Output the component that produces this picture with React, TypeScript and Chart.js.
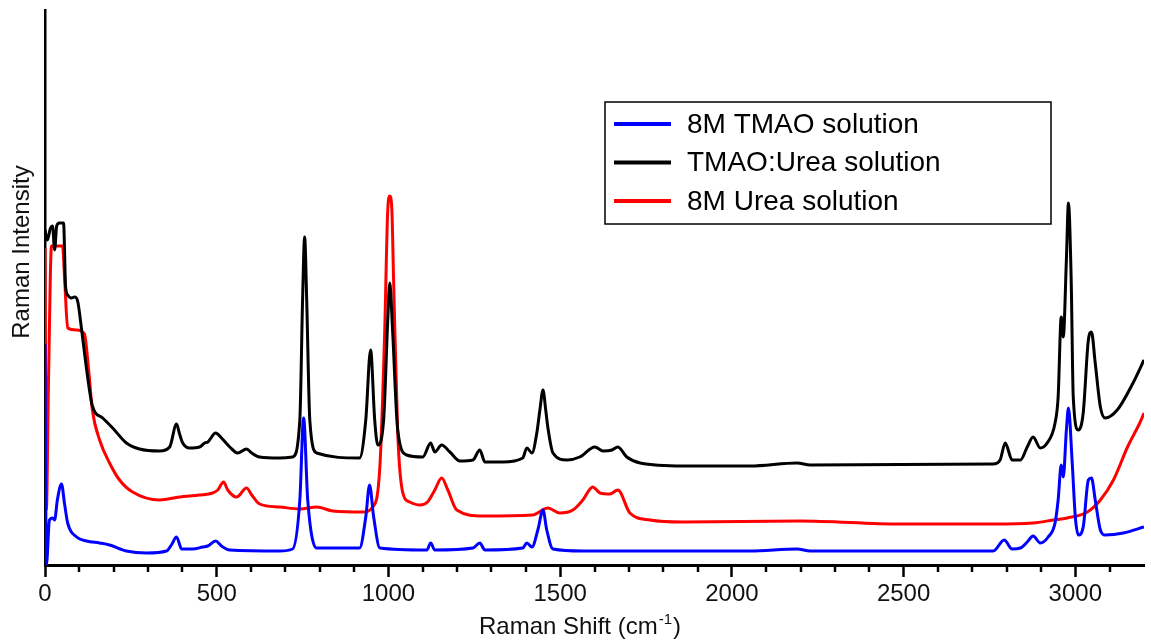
import React, { useEffect, useRef } from "react";
import { Chart, registerables } from "chart.js";

Chart.register(...registerables);

// Raman shift (cm-1) and intensity (arbitrary units)
const blueX = [0, 4, 13, 22, 28, 36, 48, 57, 66, 92, 121, 159, 188, 237, 296, 354, 368, 383, 398, 430, 459, 474, 497, 514, 538, 683, 721, 742, 753, 765, 791, 916, 934, 945, 957, 975, 1112, 1123, 1135, 1246, 1266, 1281, 1391, 1403, 1418, 1435, 1450, 1461, 1479, 1566, 2053, 2190, 2228, 2761, 2793, 2816, 2840, 2860, 2877, 2898, 2921, 2941, 2950, 2959, 2965, 2974, 2980, 2991, 3000, 3009, 3023, 3038, 3047, 3058, 3073, 3087, 3140, 3200];
const blueY = [221, 0, 45, 47, 45, 65, 81, 61, 42, 28, 24, 22, 20, 14, 12, 14, 20, 28, 16, 16, 18, 19, 24, 19, 15, 14, 16, 65, 147, 65, 17, 17, 48, 80, 48, 17, 15, 22, 15, 17, 22, 15, 17, 22, 18, 35, 55, 35, 16, 14, 14, 16, 14, 14, 25, 16, 17, 23, 29, 22, 28, 42, 65, 100, 88, 135, 157, 102, 48, 30, 38, 85, 87, 65, 35, 30, 32, 38];

const blackX = [0, 7, 16, 22, 28, 34, 42, 54, 60, 66, 77, 86, 95, 106, 121, 138, 168, 197, 237, 275, 334, 363, 383, 391, 401, 421, 450, 465, 474, 497, 514, 538, 561, 587, 602, 625, 683, 721, 742, 750, 756, 762, 771, 791, 916, 934, 948, 960, 969, 986, 998, 1004, 1012, 1027, 1053, 1100, 1123, 1135, 1155, 1179, 1208, 1246, 1266, 1281, 1333, 1391, 1403, 1418, 1432, 1441, 1450, 1458, 1464, 1479, 1520, 1557, 1601, 1625, 1651, 1668, 1694, 1733, 1858, 2053, 2190, 2228, 2761, 2781, 2796, 2816, 2840, 2860, 2877, 2898, 2918, 2941, 2950, 2959, 2965, 2974, 2980, 2988, 2994, 3009, 3023, 3038, 3047, 3058, 3073, 3087, 3122, 3168, 3200];
const blackY = [335, 325, 337, 339, 315, 339, 342, 342, 278, 270, 267, 268, 264, 237, 196, 159, 147, 137, 122, 116, 114, 118, 141, 132, 122, 117, 118, 122, 123, 132, 127, 118, 112, 116, 112, 108, 107, 108, 145, 265, 328, 265, 145, 112, 107, 145, 215, 145, 120, 145, 245, 282, 235, 135, 110, 108, 122, 113, 120, 113, 104, 105, 115, 103, 103, 107, 117, 112, 132, 155, 175, 155, 138, 112, 105, 108, 118, 114, 115, 118, 108, 102, 99, 99, 102, 100, 101, 105, 122, 105, 105, 118, 128, 117, 122, 142, 168, 248, 228, 305, 362, 285, 168, 135, 152, 225, 233, 202, 158, 147, 155, 182, 205];

const redX = [0, 4, 10, 19, 51, 58, 66, 92, 115, 127, 138, 159, 188, 217, 255, 334, 392, 450, 488, 503, 520, 532, 558, 587, 602, 625, 683, 742, 791, 838, 925, 954, 975, 989, 998, 1004, 1010, 1015, 1027, 1042, 1062, 1091, 1114, 1135, 1155, 1173, 1199, 1275, 1420, 1464, 1499, 1537, 1566, 1595, 1616, 1645, 1668, 1703, 1762, 1858, 2198, 2490, 2761, 2877, 2936, 2976, 3035, 3073, 3111, 3152, 3189, 3200];
const redY = [317, 55, 180, 319, 319, 280, 237, 235, 231, 195, 155, 125, 102, 85, 73, 65, 68, 70, 72, 75, 83, 75, 68, 77, 70, 61, 58, 56, 58, 54, 53, 58, 98, 232, 355, 369, 355, 285, 132, 72, 63, 60, 63, 75, 87, 75, 55, 49, 50, 57, 52, 55, 65, 78, 72, 71, 75, 52, 45, 43, 44, 41, 41, 42, 45, 47, 53, 65, 85, 118, 143, 152];

const seriesLabels = ["8M TMAO solution", "TMAO:Urea solution", "8M Urea solution"];
const seriesColors = ["#0000ff", "#000000", "#ff0000"];
const majorTicks = [0, 500, 1000, 1500, 2000, 2500, 3000];
const xTitle = "Raman Shift (cm";
const xTitleSup = "-1";
const yTitle = "Raman Intensity";
const X_MIN = 0;
const X_MAX = 3200;
const MAJOR_STEP = 500;
const MINOR_STEP = 100;

const FONT = '"Liberation Sans", Arial, Helvetica, sans-serif';

const decorPlugin = {
  id: "decor",
  afterDraw(chart: any) {
    const ctx: CanvasRenderingContext2D = chart.ctx;
    const xs = chart.scales.x;
    const area = chart.chartArea;
    ctx.save();
    // minor ticks
    ctx.strokeStyle = "#000";
    ctx.lineWidth = 2.5;
    for (let v = MINOR_STEP; v < X_MAX; v += MINOR_STEP) {
      if (v % MAJOR_STEP === 0) continue;
      const px = Math.round(xs.getPixelForValue(v));
      ctx.beginPath();
      ctx.moveTo(px, area.bottom);
      ctx.lineTo(px, area.bottom + 7);
      ctx.stroke();
    }
    // y title
    ctx.fillStyle = "#111";
    ctx.font = `24px ${FONT}`;
    ctx.save();
    ctx.translate(29, 252);
    ctx.rotate(-Math.PI / 2);
    ctx.textAlign = "center";
    ctx.textBaseline = "alphabetic";
    ctx.fillText(yTitle, 0, 0);
    ctx.restore();
    // x title with superscript
    ctx.font = `24px ${FONT}`;
    const w1 = ctx.measureText(xTitle).width;
    ctx.font = `15px ${FONT}`;
    const w2 = ctx.measureText(xTitleSup).width;
    ctx.font = `24px ${FONT}`;
    const w3 = ctx.measureText(")").width;
    const total = w1 + w2 + w3 + 2;
    let x0 = 580 - total / 2;
    const base = 634;
    ctx.textAlign = "left";
    ctx.textBaseline = "alphabetic";
    ctx.fillText(xTitle, x0, base);
    x0 += w1 + 1;
    ctx.font = `15px ${FONT}`;
    ctx.fillText(xTitleSup, x0, base - 10);
    x0 += w2 + 1;
    ctx.font = `24px ${FONT}`;
    ctx.fillText(")", x0, base);
    // legend box
    const bx = 605, by = 102, bw = 446, bh = 122;
    ctx.fillStyle = "#fff";
    ctx.fillRect(bx, by, bw, bh);
    ctx.strokeStyle = "#000";
    ctx.lineWidth = 1.5;
    ctx.strokeRect(bx, by, bw, bh);
    chart.data.datasets.forEach((ds: any, i: number) => {
      const cy = by + 22 + i * 38.5;
      ctx.strokeStyle = ds.borderColor;
      ctx.lineWidth = 4;
      ctx.beginPath();
      ctx.moveTo(614, cy);
      ctx.lineTo(671, cy);
      ctx.stroke();
      ctx.fillStyle = "#000";
      ctx.font = `28px ${FONT}`;
      ctx.textBaseline = "middle";
      ctx.textAlign = "left";
      ctx.fillText(ds.label, 687, cy + 1);
    });
    ctx.restore();
  },
};

function points(xs: number[], ys: number[]) {
  return xs.map((x, i) => ({ x, y: ys[i] }));
}

export default function App() {
  const ref = useRef<HTMLCanvasElement>(null);
  useEffect(() => {
    document.body.style.margin = "0";
    const canvas = ref.current;
    if (!canvas) return;
    const seriesData = [points(blueX, blueY), points(blackX, blackY), points(redX, redY)];
    const chart = new Chart(canvas, {
      type: "line",
      data: {
        datasets: seriesData.map((d, i) => ({
          label: seriesLabels[i],
          data: d,
          borderColor: seriesColors[i],
          backgroundColor: seriesColors[i],
          borderWidth: 3,
          pointRadius: 0,
          fill: false,
          cubicInterpolationMode: "monotone" as const,
        })),
      },
      options: {
        responsive: false,
        animation: false,
        devicePixelRatio: 1,
        layout: { padding: { top: 10, right: 7, left: 0, bottom: 0 } },
        plugins: { legend: { display: false }, tooltip: { enabled: false } },
        scales: {
          x: {
            type: "linear",
            min: X_MIN,
            max: X_MAX,
            afterBuildTicks: (s: any) => {
              s.ticks = majorTicks.map((v) => ({ value: v }));
            },
            afterFit: (s: any) => {
              s.height = 75;
            },
            ticks: {
              autoSkip: false,
              maxRotation: 0,
              color: "#111",
              padding: 3,
              font: { family: FONT, size: 24 },
              callback: (v: any) => String(v),
            },
            grid: {
              display: true,
              drawOnChartArea: false,
              drawTicks: true,
              tickLength: 12,
              tickWidth: 2.5,
              tickColor: "#000",
            },
            border: { display: true, color: "#000", width: 3 },
          },
          y: {
            min: 0,
            max: 555,
            afterFit: (s: any) => {
              s.width = 45;
            },
            ticks: { display: false },
            grid: { display: false },
            border: { display: true, color: "#000", width: 2.5 },
          },
        },
      },
      plugins: [decorPlugin],
    });
    return () => chart.destroy();
  }, []);
  return (
    <div style={{ width: 1151, height: 640 }}>
      <canvas ref={ref} width={1151} height={640} />
    </div>
  );
}
